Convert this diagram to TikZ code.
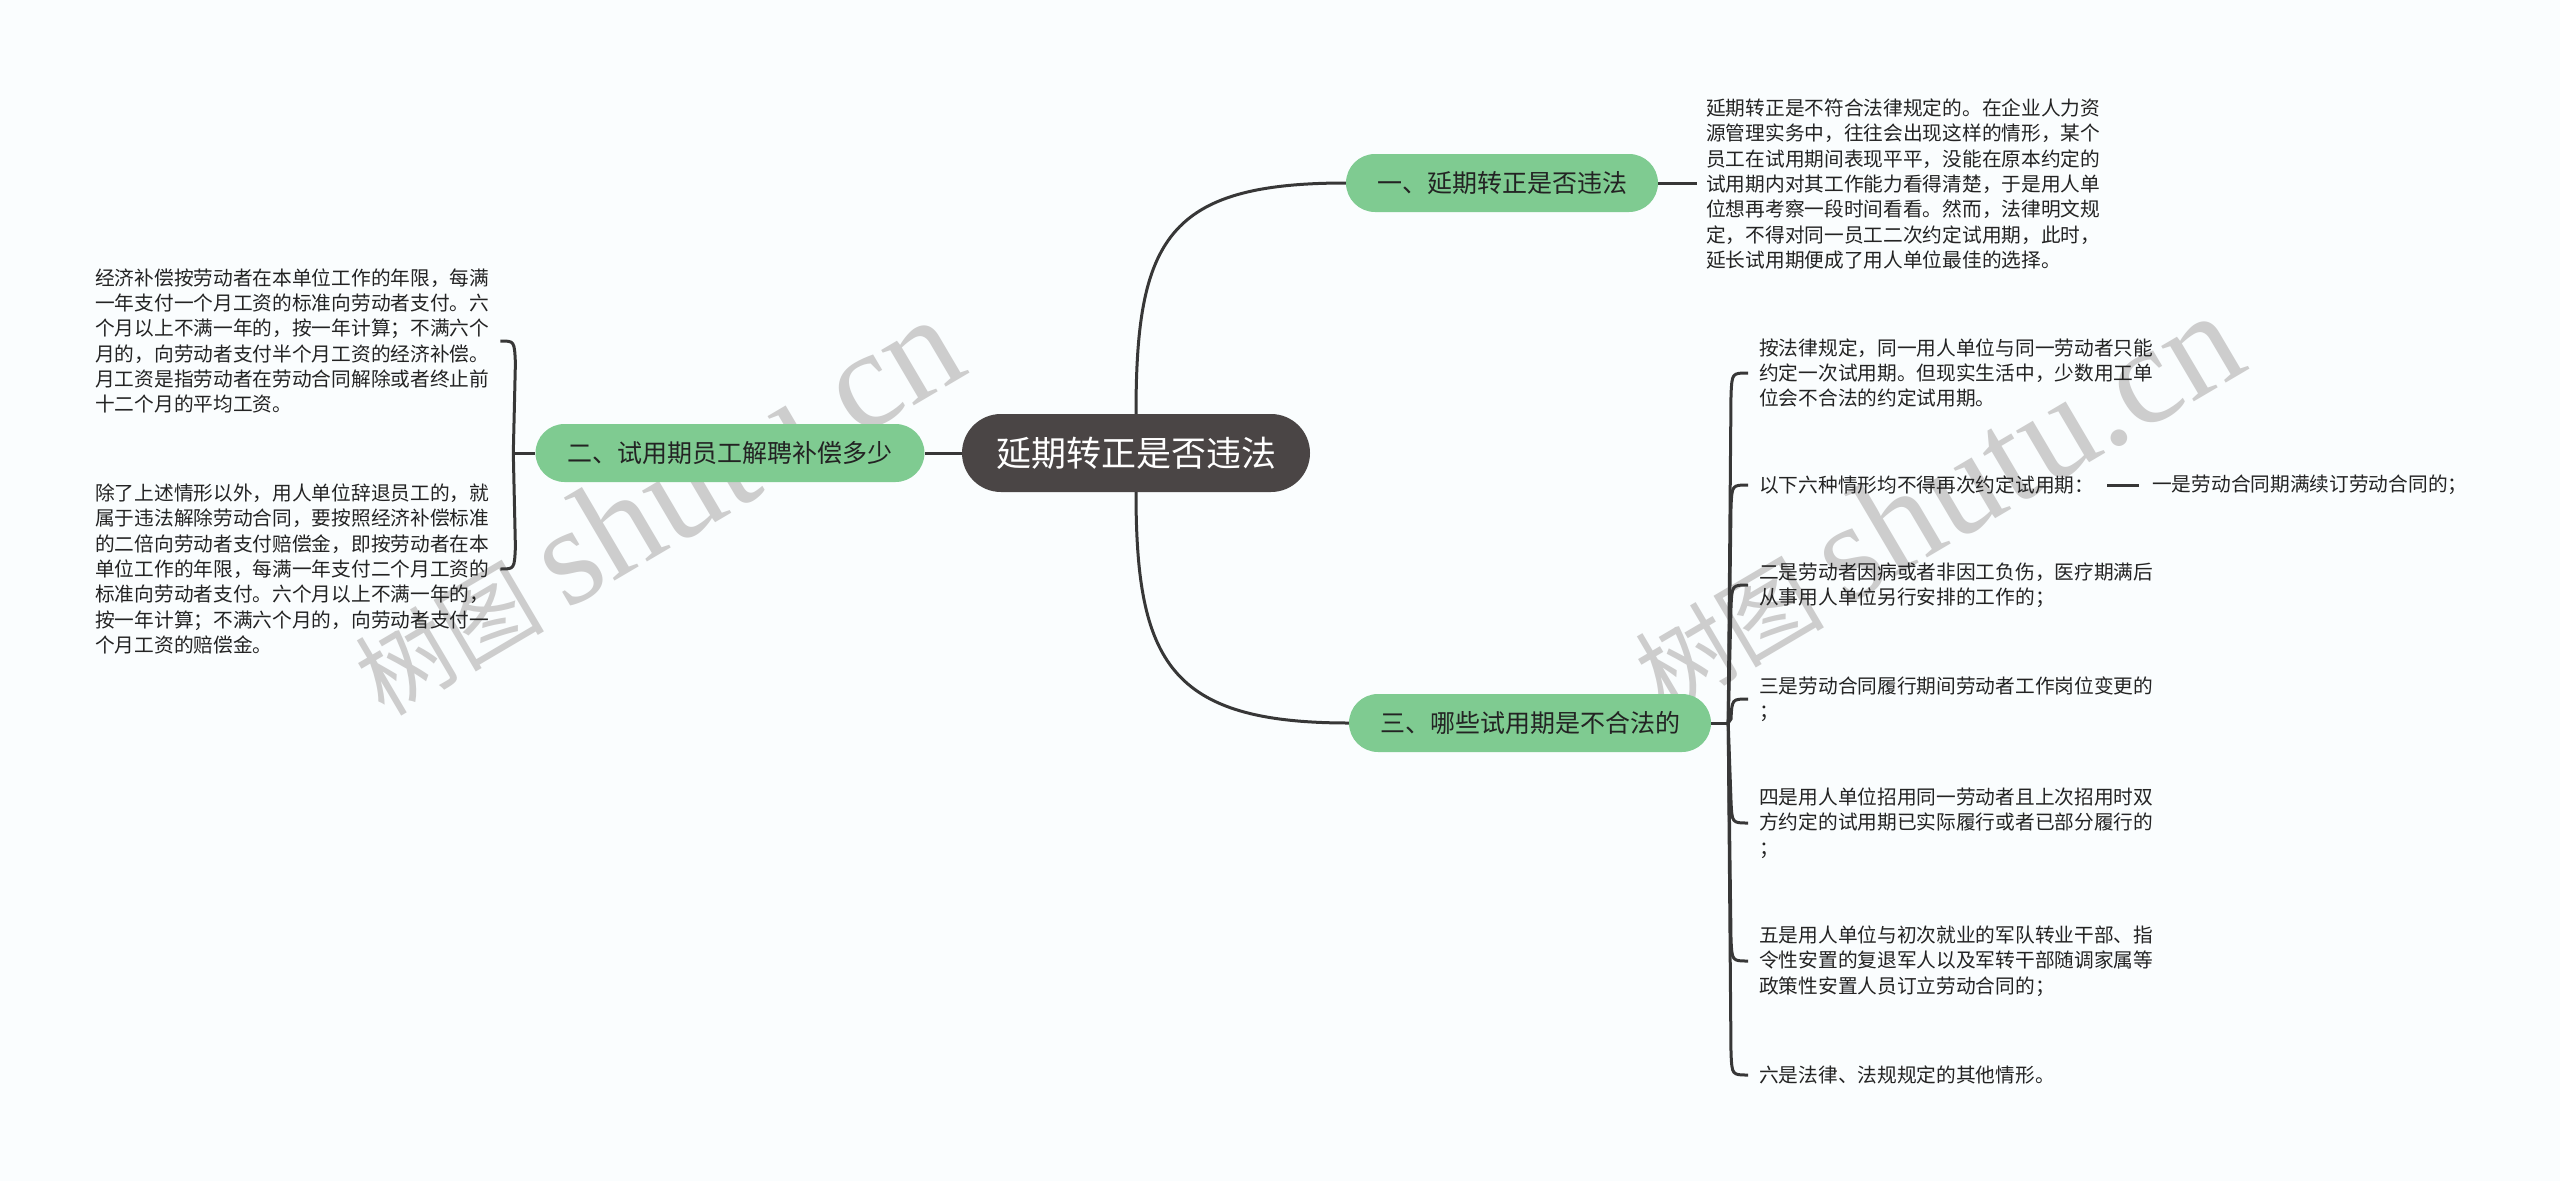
\documentclass[tikz,border=0pt]{standalone}
\usepackage{fontspec}
\setmainfont{Noto Sans CJK SC}
\newfontfamily\wmserif{Liberation Serif}
\usetikzlibrary{calc}
\definecolor{bgc}{RGB}{250,253,254}
\definecolor{brgreen}{RGB}{127,203,145}
\definecolor{darkc}{RGB}{74,69,69}
\definecolor{linec}{RGB}{55,55,55}
\definecolor{txt}{RGB}{35,35,35}
\definecolor{wmc}{RGB}{205,205,205}
\begin{document}
\begin{tikzpicture}[x=1pt,y=-1pt,
  conn/.style={draw=linec, line width=3pt},
  rootnode/.style={fill=darkc, text=white, rounded corners=39pt, minimum height=78pt, inner xsep=20pt, inner ysep=0pt, font=\fontsize{35pt}{40pt}\selectfont},
  branch/.style={fill=brgreen, text=txt, rounded corners=29pt, minimum height=58pt, inner xsep=20pt, inner ysep=0pt, font=\fontsize{25pt}{30pt}\selectfont},
  leaf/.style={inner sep=0pt, align=left, text=txt, font=\fontsize{19.7pt}{25.3pt}\selectfont},
  wmark/.style={rotate=30.5, text=wmc, inner sep=0pt, font=\fontsize{95pt}{105pt}\selectfont}
  ]
\fill[bgc] (0,0) rectangle (2560,1181);
\useasboundingbox (0,0) rectangle (2560,1181);

% watermarks
\node[wmark] (wm1) at (655,506) {树图 {\wmserif\fontsize{140pt}{140pt}\selectfont shutu.cn}};
\node[wmark] (wm2) at (1935,502) {树图 {\wmserif\fontsize{140pt}{140pt}\selectfont shutu.cn}};

% main nodes
\node[rootnode, minimum width=348pt] (root) at (1136,453) {延期转正是否违法};
\node[branch, minimum width=312pt] (b1) at (1502,183) {一、延期转正是否违法};
\node[branch, minimum width=389pt] (b2) at (730,453) {二、试用期员工解聘补偿多少};
\node[branch, minimum width=362pt] (b3) at (1530,723) {三、哪些试用期是不合法的};

% leaves of branch 1
\node[leaf, anchor=west] (a1) at (1706,184) {延期转正是不符合法律规定的。在企业人力资\\源管理实务中，往往会出现这样的情形，某个\\员工在试用期间表现平平，没能在原本约定的\\试用期内对其工作能力看得清楚，于是用人单\\位想再考察一段时间看看。然而，法律明文规\\定，不得对同一员工二次约定试用期，此时，\\延长试用期便成了用人单位最佳的选择。};

% leaves of branch 2
\node[leaf, anchor=west] (c1) at (95,341) {经济补偿按劳动者在本单位工作的年限，每满\\一年支付一个月工资的标准向劳动者支付。六\\个月以上不满一年的，按一年计算；不满六个\\月的，向劳动者支付半个月工资的经济补偿。\\月工资是指劳动者在劳动合同解除或者终止前\\十二个月的平均工资。};
\node[leaf, anchor=west] (c2) at (95,569) {除了上述情形以外，用人单位辞退员工的，就\\属于违法解除劳动合同，要按照经济补偿标准\\的二倍向劳动者支付赔偿金，即按劳动者在本\\单位工作的年限，每满一年支付二个月工资的\\标准向劳动者支付。六个月以上不满一年的，\\按一年计算；不满六个月的，向劳动者支付一\\个月工资的赔偿金。};

% leaves of branch 3
\node[leaf, anchor=west] (d1) at (1759,373) {按法律规定，同一用人单位与同一劳动者只能\\约定一次试用期。但现实生活中，少数用工单\\位会不合法的约定试用期。};
\node[leaf, anchor=west] (d2) at (1759,485) {以下六种情形均不得再次约定试用期：};
\node[leaf, anchor=west] (d2b) at (2152,485) {一是劳动合同期满续订劳动合同的；};
\node[leaf, anchor=west] (d3) at (1759,585) {二是劳动者因病或者非因工负伤，医疗期满后\\从事用人单位另行安排的工作的；};
\node[leaf, anchor=west] (d4) at (1759,699) {三是劳动合同履行期间劳动者工作岗位变更的\\；};
\node[leaf, anchor=west] (d5) at (1759,823) {四是用人单位招用同一劳动者且上次招用时双\\方约定的试用期已实际履行或者已部分履行的\\；};
\node[leaf, anchor=west] (d6) at (1759,961) {五是用人单位与初次就业的军队转业干部、指\\令性安置的复退军人以及军转干部随调家属等\\政策性安置人员订立劳动合同的；};
\node[leaf, anchor=west] (d7) at (1759,1075) {六是法律、法规规定的其他情形。};

% connectors root -> branches
\draw[conn] (root.north) .. controls ($(root.north)+(0,-174)$) and ($(b1.west)+(-179,0)$) .. (b1.west);
\draw[conn] (root.south) .. controls ($(root.south)+(0,170)$) and ($(b3.west)+(-179,0)$) .. (b3.west);
\draw[conn] (root.west) -- (b2.east);

% branch 1 -> leaf
\draw[conn, shorten >=9pt] (b1.east) -- (a1.west |- b1.east);

% branch 2 -> leaves
\coordinate (j2) at ($(b2.west)+(-22,0)$);
\draw[conn] (b2.west) -- (j2);
\draw[conn] (j2) -- ($(c1.east)+(26,22)$) .. controls ($(c1.east)+(25,0)$) .. ($(c1.east)+(11,0)$);
\draw[conn] (j2) -- ($(c2.east)+(26,-22)$) .. controls ($(c2.east)+(25,0)$) .. ($(c2.east)+(11,0)$);

% branch 3 -> leaves
\coordinate (j3) at ($(b3.east)+(17,0)$);
\draw[conn] (b3.east) -- (j3);
\draw[conn] (j3) -- ($(d1.west)+(-28,22)$) .. controls ($(d1.west)+(-27,0)$) .. ($(d1.west)+(-11,0)$);
\draw[conn] (j3) -- ($(d2.west)+(-28,22)$) .. controls ($(d2.west)+(-27,0)$) .. ($(d2.west)+(-11,0)$);
\draw[conn] (j3) -- ($(d3.west)+(-28,22)$) .. controls ($(d3.west)+(-27,0)$) .. ($(d3.west)+(-11,0)$);
\draw[conn] (j3) -- ($(d4.west)+(-28,20)$) .. controls ($(d4.west)+(-27,0)$) .. ($(d4.west)+(-11,0)$);
\draw[conn] (j3) -- ($(d5.west)+(-28,-22)$) .. controls ($(d5.west)+(-27,0)$) .. ($(d5.west)+(-11,0)$);
\draw[conn] (j3) -- ($(d6.west)+(-28,-22)$) .. controls ($(d6.west)+(-27,0)$) .. ($(d6.west)+(-11,0)$);
\draw[conn] (j3) -- ($(d7.west)+(-28,-22)$) .. controls ($(d7.west)+(-27,0)$) .. ($(d7.west)+(-11,0)$);
\draw[conn, shorten <=13pt, shorten >=13pt] (d2.east) -- (d2b.west);
\end{tikzpicture}
\end{document}
